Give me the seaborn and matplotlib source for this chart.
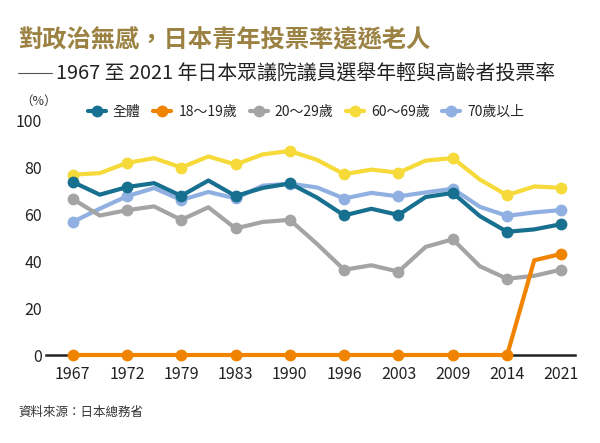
import pandas as pd
import matplotlib.pyplot as plt
import seaborn as sns
from matplotlib.lines import Line2D

years = [1967, 1969, 1972, 1976, 1979, 1980, 1983, 1986, 1990, 1993,
         1996, 2000, 2003, 2005, 2009, 2012, 2014, 2017, 2021]
overall = [73.99, 68.51, 71.76, 73.45, 68.01, 74.57, 67.94, 71.40, 73.31, 67.26,
           59.65, 62.49, 59.86, 67.51, 69.28, 59.32, 52.66, 53.68, 55.93]
age_18_19 = [0, 0, 0, 0, 0, 0, 0, 0, 0, 0,
             0, 0, 0, 0, 0, 0, 0, 40.49, 43.21]
age_20s = [66.69, 59.61, 61.89, 63.50, 57.76, 63.13, 54.07, 56.86, 57.76, 47.46,
           36.42, 38.35, 35.62, 46.20, 49.45, 37.89, 32.58, 33.85, 36.50]
age_60s = [77.08, 77.70, 82.09, 84.13, 80.12, 84.84, 81.43, 85.73, 87.21, 83.38,
           77.25, 79.23, 77.89, 83.08, 84.15, 74.93, 68.28, 72.04, 71.43]
age_70plus = [56.83, 62.52, 67.85, 71.35, 66.23, 69.68, 66.92, 72.36, 73.21, 71.61,
              66.88, 69.28, 67.78, 69.48, 71.06, 63.30, 59.46, 60.94, 61.96]

series_names = ['全體', '18～19歲', '20～29歲', '60～69歲', '70歲以上']
series_values = [overall, age_18_19, age_20s, age_60s, age_70plus]
colors = ['#17708f', '#f08300', '#a4a4a4', '#f5da3a', '#8fb0e0']

sns.set_style('white')
cjk = ['Noto Sans CJK TC', 'DejaVu Sans']
plt.rcParams['font.family'] = cjk

fig = plt.figure(figsize=(6, 4.43), dpi=100)
ax = fig.add_axes([46 / 600, 88 / 443, 529 / 600, 234 / 443])

rows = []
for name, vals in zip(series_names, series_values):
    for i, (y, v) in enumerate(zip(years, vals)):
        rows.append({'idx': i, 'year': y, 'rate': v, 'group': name})
df = pd.DataFrame(rows)

# draw back to front so 全體 / 18~19 end up on top
for name, c in reversed(list(zip(series_names, colors))):
    sub = df[df['group'] == name]
    sns.lineplot(data=sub, x='idx', y='rate', ax=ax, color=c, lw=3,
                 marker='o', markersize=8.5, markeredgewidth=0,
                 markevery=2, clip_on=False, legend=False)

ax.set_xlim(-0.98, 18.5)
ax.set_ylim(0, 100)
ax.set_xticks(range(0, len(years), 2))
ax.set_xticklabels([str(y) for y in years[::2]])
ax.set_yticks([0, 20, 40, 60, 80, 100])
ax.set_xlabel('')
ax.set_ylabel('')
for s in ['top', 'right', 'left']:
    ax.spines[s].set_visible(False)
ax.spines['bottom'].set_color('#222222')
ax.spines['bottom'].set_linewidth(1.8)
ax.spines['bottom'].set_zorder(0)
ax.tick_params(axis='x', direction='out', length=4, width=0.8, color='#aaaaaa',
               labelsize=11.5, labelcolor='#222222', pad=4)
ax.tick_params(axis='y', direction='in', length=5, width=0.8, color='#999999',
               labelsize=11.5, labelcolor='#222222', pad=3)
ax.grid(False)

fig.text(20 / 600, 1 - 101 / 443, '（%）', fontsize=9, color='#333333',
         va='center', ha='left')

handles = [Line2D([], [], color=c, lw=3, marker='o', markersize=8.5,
                  markeredgewidth=0) for c in colors]
fig.legend(handles, series_names, loc='center', bbox_to_anchor=(0.51, 1 - 112 / 443),
           ncol=5, frameon=False, fontsize=10, handlelength=1.3,
           handletextpad=0.5, columnspacing=0.9)

fig.text(18 / 600, 1 - 40 / 443, '對政治無感，日本青年投票率遠遜老人',
         fontsize=17.5, fontweight='bold', color='#9b8243', va='center', ha='left')
fig.add_artist(Line2D([18 / 600, 52 / 600], [1 - 73 / 443, 1 - 73 / 443],
                      color='#555555', lw=0.8))
fig.text(56 / 600, 1 - 73 / 443, '1967 至 2021 年日本眾議院議員選舉年輕與高齡者投票率',
         fontsize=14.3, color='#222222', va='center', ha='left')
fig.text(18 / 600, 1 - 412 / 443, '資料來源：日本總務省', fontsize=9,
         color='#333333', va='center', ha='left')

plt.savefig('out.png', dpi=100, facecolor='white')
print("done!")
